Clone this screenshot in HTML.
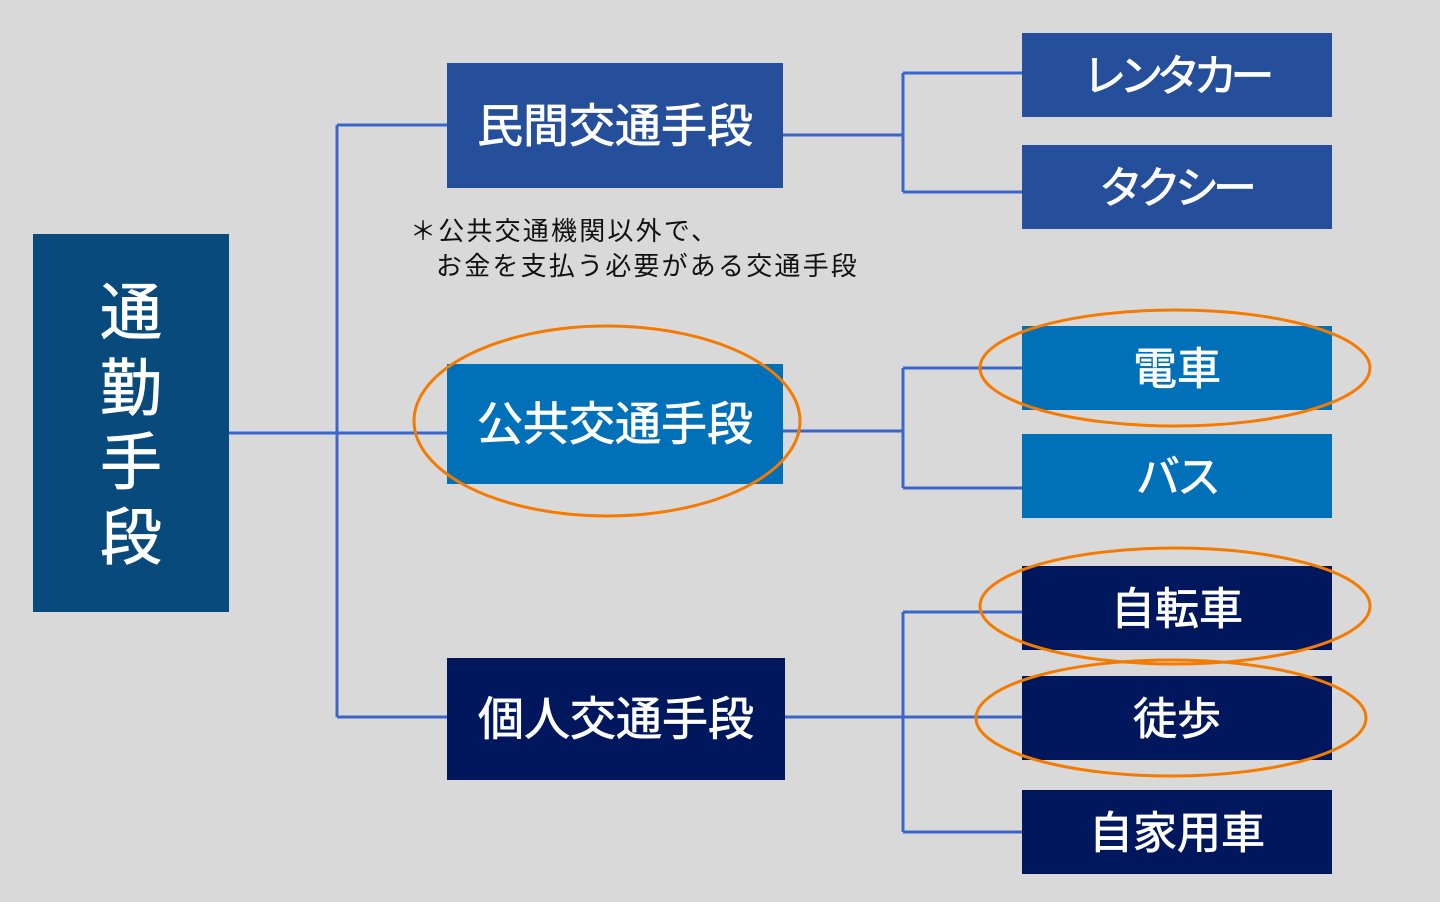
<!DOCTYPE html>
<html><head><meta charset="utf-8"><style>
html,body{margin:0;padding:0;background:#d9d9d9;}
svg{display:block;}
text{font-family:"Liberation Sans","Noto Sans CJK JP",sans-serif;}
</style></head><body>
<svg width="1440" height="902" viewBox="0 0 1440 902" xmlns="http://www.w3.org/2000/svg">
<rect width="1440" height="902" fill="#d9d9d9"/>
<g stroke="#3a66cc" stroke-width="3" fill="none">
<path d="M229 433H447M337 125V717M337 125H447M337 717H447"/>
<path d="M783 135H903M903 73V192M903 73H1022M903 192H1022"/>
<path d="M783 431H903M903 368V488M903 368H1022M903 488H1022"/>
<path d="M785 717H1022M903 612V832M903 612H1022M903 832H1022"/>
</g>
<rect x="33" y="234" width="196" height="378" fill="#084a7b"/>
<g fill="#fff" stroke="#fff" stroke-width="0.8" font-size="62" text-anchor="middle">
<text x="131" y="334">通</text><text x="131" y="410">勤</text><text x="131" y="484">手</text><text x="131" y="559">段</text>
</g>
<rect x="447" y="63" width="336" height="125" fill="#264f9b"/>
<rect x="447" y="364" width="336" height="120" fill="#0070b9"/>
<rect x="447" y="658" width="338" height="122" fill="#00175e"/>
<g fill="#fff" stroke="#fff" stroke-width="0.8" font-size="46" text-anchor="middle">
<text x="615" y="142">民間交通手段</text>
<text x="615" y="440">公共交通手段</text>
<text x="616" y="735">個人交通手段</text>
</g>
<rect x="1022" y="33" width="310" height="84" fill="#264f9b"/>
<rect x="1022" y="145" width="310" height="84" fill="#264f9b"/>
<rect x="1022" y="326" width="310" height="84" fill="#0070b9"/>
<rect x="1022" y="434" width="310" height="84" fill="#0070b9"/>
<rect x="1022" y="566" width="310" height="84" fill="#00175e"/>
<rect x="1022" y="676" width="310" height="84" fill="#00175e"/>
<rect x="1022" y="790" width="310" height="84" fill="#00175e"/>
<g fill="#fff" stroke="#fff" stroke-width="0.8" font-size="44" text-anchor="middle">
<text x="1175" y="91" letter-spacing="-7">レンタカー</text>
<text x="1175" y="203" letter-spacing="-6">タクシー</text>
<text x="1177" y="384">電車</text>
<text x="1177" y="492" letter-spacing="-3">バス</text>
<text x="1177" y="624">自転車</text>
<text x="1177" y="734">徒歩</text>
<text x="1177" y="848">自家用車</text>
</g>
<g fill="#111" font-size="26" letter-spacing="2.2">
<text x="410" y="240">＊公共交通機関以外で、</text>
<text x="436" y="275">お金を支払う必要がある交通手段</text>
</g>
<g stroke="#f47a00" stroke-width="3" fill="none">
<ellipse cx="607" cy="421" rx="193" ry="95"/>
<ellipse cx="1175" cy="368" rx="195" ry="58"/>
<ellipse cx="1175" cy="606" rx="195" ry="58"/>
<ellipse cx="1171" cy="718" rx="195" ry="58"/>
</g>
</svg>
</body></html>
